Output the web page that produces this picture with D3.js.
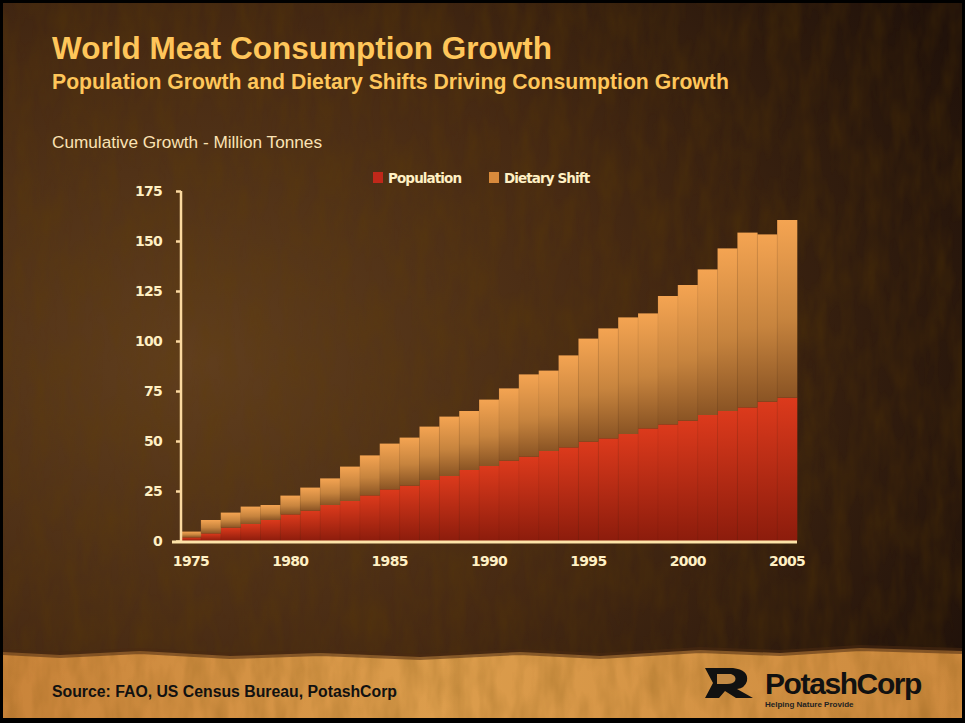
<!DOCTYPE html>
<html>
<head>
<meta charset="utf-8">
<script src="https://cdn.jsdelivr.net/npm/d3@7"></script>
<style>
  html, body { margin: 0; padding: 0; background: #000; }
  svg { display: block; }
</style>
</head>
<body>
<div id="canvas"></div>
<script>
// chart data
var years = d3.range(1975, 2006);
var population = [1.8, 3.8, 6.7, 8.5, 10.5, 13.3, 15.2, 18, 20, 22.8, 25.8, 27.7, 30.5, 32.5, 35.5,
                  37.5, 40.2, 42.2, 45, 46.8, 49.7, 51.3, 53.5, 56.3, 58.3, 60.2, 63, 65, 66.8, 69.7, 71.7];
var total = [4.7, 10.5, 14.2, 17.2, 18, 22.7, 26.7, 31.3, 37.2, 42.8, 48.7, 51.7, 57.2, 62.2, 65,
             70.7, 76.3, 83.3, 85.2, 92.8, 101.2, 106.3, 111.8, 113.8, 122.5, 128, 135.8, 146.3, 154.2, 153.3, 160.5];
var dietary = total.map(function (t, i) { return +(t - population[i]).toFixed(1); });
var yTicks = [0, 25, 50, 75, 100, 125, 150, 175];
var xTickYears = [1975, 1980, 1985, 1990, 1995, 2000, 2005];
var seriesNames = ['Population', 'Dietary Shift'];

window.onload = (function () {
    var W = 965, H = 723;
    var svg = d3.select('#canvas').append('svg')
        .attr('width', W).attr('height', H);
    var defs = svg.append('defs');

    // background gradient, lighter brown on the left
    var bg = defs.append('radialGradient').attr('id', 'bg')
        .attr('cx', '0.2').attr('cy', '0.5').attr('r', '0.9');
    bg.append('stop').attr('offset', '0').attr('stop-color', '#603e1d');
    bg.append('stop').attr('offset', '0.5').attr('stop-color', '#472a13');
    bg.append('stop').attr('offset', '1').attr('stop-color', '#21120a');

    // grainy, fibrous texture
    var grain = defs.append('filter').attr('id', 'grain')
        .attr('x', 0).attr('y', 0).attr('width', 1).attr('height', 1);
    grain.append('feTurbulence').attr('type', 'fractalNoise')
        .attr('baseFrequency', '0.06 0.02').attr('numOctaves', 3).attr('seed', 7);
    grain.append('feColorMatrix').attr('type', 'matrix')
        .attr('values', '0 0 0 0 0.12  0 0 0 0 0.05  0 0 0 0 0  0 0 0 -1.2 0.8');
    grain.append('feComposite').attr('in2', 'SourceGraphic').attr('operator', 'in');

    var band = defs.append('linearGradient').attr('id', 'band')
        .attr('x1', 0).attr('x2', 1).attr('y1', 0).attr('y2', 0);
    band.append('stop').attr('offset', '0').attr('stop-color', '#c9843a');
    band.append('stop').attr('offset', '0.45').attr('stop-color', '#dc9d4c');
    band.append('stop').attr('offset', '1').attr('stop-color', '#cd8a3e');

    var gRed = defs.append('linearGradient').attr('id', 'gRed')
        .attr('x1', 0).attr('x2', 0).attr('y1', 0).attr('y2', 1);
    gRed.append('stop').attr('offset', '0').attr('stop-color', '#dc3a1c');
    gRed.append('stop').attr('offset', '1').attr('stop-color', '#8c1c0c');

    var gOr = defs.append('linearGradient').attr('id', 'gOr')
        .attr('x1', 0).attr('x2', 0).attr('y1', 0).attr('y2', 1);
    gOr.append('stop').attr('offset', '0').attr('stop-color', '#f4a452');
    gOr.append('stop').attr('offset', '0.55').attr('stop-color', '#c7843e');
    gOr.append('stop').attr('offset', '1').attr('stop-color', '#8a5424');

    svg.append('rect').attr('width', W).attr('height', H).attr('fill', '#000');
    svg.append('rect').attr('x', 3).attr('y', 3).attr('width', W - 6).attr('height', H - 8)
        .attr('fill', 'url(#bg)');
    svg.append('rect').attr('x', 3).attr('y', 3).attr('width', W - 6).attr('height', H - 8)
        .attr('fill', '#000').attr('filter', 'url(#grain)').attr('opacity', 0.4);

    // torn paper strip at the bottom
    var edge = [[3, 652], [60, 655], [140, 651], [230, 656], [320, 653], [420, 657], [520, 652],
                [600, 656], [700, 650], [780, 653], [860, 648], [962, 651]];
    var stripPts = edge.concat([[962, 718], [3, 718]]);
    svg.append('path').attr('d', d3.line()(stripPts) + 'Z').attr('fill', 'url(#band)');
    svg.append('path').attr('d', d3.line()(stripPts) + 'Z')
        .attr('fill', '#000').attr('filter', 'url(#grain)').attr('opacity', 0.3);
    svg.append('path').attr('d', d3.line()(edge)).attr('fill', 'none')
        .attr('stroke', '#4a2a12').attr('stroke-width', 6).attr('opacity', 0.55);

    var font = 'Liberation Sans, Arial, sans-serif';
    var tickFont = 'DejaVu Sans, sans-serif';
    // titles
    svg.append('text').attr('x', 52).attr('y', 59)
        .attr('font-family', font).attr('font-weight', 'bold')
        .attr('font-size', 31.5).attr('fill', '#ffc65a')
        .text('World Meat Consumption Growth');
    svg.append('text').attr('x', 52).attr('y', 89)
        .attr('font-family', font).attr('font-weight', 'bold')
        .attr('font-size', 21.2).attr('fill', '#ffc65a')
        .text('Population Growth and Dietary Shifts Driving Consumption Growth');
    svg.append('text').attr('x', 52).attr('y', 148)
        .attr('font-family', font)
        .attr('font-size', 17.2).attr('fill', '#fbe3b4')
        .text('Cumulative Growth - Million Tonnes');

    // scales
    var x = d3.scaleBand().domain(years).range([181, 797]).padding(0);
    var y = d3.scaleLinear().domain([0, 175]).range([541, 191]);

    var stacked = d3.stack().keys([0, 1])
        .value(function (d, k) { return k === 0 ? d.pop : d.diet; })(
            years.map(function (yr, i) { return { year: yr, pop: population[i], diet: dietary[i] }; }));
    var fills = ['url(#gRed)', 'url(#gOr)'];

    var layers = svg.selectAll('g.layer').data(stacked).enter().append('g')
        .attr('class', 'layer').attr('fill', function (d, i) { return fills[i]; });
    layers.selectAll('rect').data(function (d) { return d; }).enter().append('rect')
        .attr('x', function (d) { return x(d.data.year); })
        .attr('y', function (d) { return y(d[1]); })
        .attr('width', x.bandwidth() + 0.3)
        .attr('height', function (d) { return y(d[0]) - y(d[1]); });
    // faint seams between bars
    svg.append('g').selectAll('line').data(years.slice(1)).enter().append('line')
        .attr('x1', function (d) { return x(d); }).attr('x2', function (d) { return x(d); })
        .attr('y1', function (d, i) { return y(total[i + 1]); }).attr('y2', 541)
        .attr('stroke', '#000').attr('stroke-opacity', 0.06);

    // y axis
    var yAxis = svg.append('g').attr('transform', 'translate(181,0)')
        .call(d3.axisLeft(y).tickValues(yTicks).tickSize(5).tickPadding(14));
    yAxis.select('.domain').attr('stroke', '#fbd9a0').attr('stroke-width', 2.5)
        .attr('d', 'M0,' + y(175) + 'V' + y(0));
    yAxis.selectAll('.tick line').attr('stroke', '#fbd9a0').attr('stroke-width', 2.5);
    yAxis.selectAll('.tick text').attr('fill', '#fff0c4').attr('font-family', tickFont)
        .attr('font-weight', 'bold').attr('font-size', 14).attr('letter-spacing', -0.7)
        .attr('dy', '0.35em');

    // x axis
    var xAxis = svg.append('g').attr('transform', 'translate(0,542)')
        .call(d3.axisBottom(x).tickValues(xTickYears).tickSize(0).tickPadding(14));
    xAxis.select('.domain').attr('stroke', '#fde3a8').attr('stroke-width', 3)
        .attr('d', 'M172,0H797');
    xAxis.selectAll('.tick text').attr('fill', '#fff0c4').attr('font-family', tickFont)
        .attr('font-weight', 'bold').attr('font-size', 14).attr('letter-spacing', -0.7);

    // legend
    var legX = [373, 489];
    var leg = svg.append('g').selectAll('g').data(seriesNames).enter().append('g')
        .attr('transform', function (d, i) { return 'translate(' + legX[i] + ',172)'; });
    leg.append('rect').attr('width', 10).attr('height', 11)
        .attr('fill', function (d, i) { return i === 0 ? '#c0281a' : '#d88a3c'; });
    leg.append('text').attr('x', 15).attr('y', 11)
        .attr('font-family', tickFont).attr('font-weight', 'bold').attr('font-size', 13.5)
        .attr('letter-spacing', -0.9).attr('fill', '#fff0c4')
        .text(function (d) { return d; });

    // source + logo
    svg.append('text').attr('x', 52).attr('y', 697)
        .attr('font-family', font).attr('font-weight', 'bold').attr('font-size', 15.8)
        .attr('fill', '#111').text('Source: FAO, US Census Bureau, PotashCorp');
    var logo = svg.append('g').attr('transform', 'translate(703,664)');
    logo.append('path').attr('d', 'M2,4 L30,4 Q46,6 44,17 Q42,24 34,25 L50,34 L33,34 L22,27 L16,34 L2,34 L10,19 Z')
        .attr('fill', '#111');
    logo.append('path').attr('d', 'M14,10 L28,10 Q34,12 32,17 Q30,20 24,20 L14,20 Z')
        .attr('fill', '#c38a45');
    logo.append('text').attr('x', 62).attr('y', 30)
        .attr('font-family', font).attr('font-weight', 'bold').attr('font-size', 30)
        .attr('letter-spacing', -1.4).attr('fill', '#111').text('PotashCorp');
    logo.append('text').attr('x', 62).attr('y', 43)
        .attr('font-family', font).attr('font-weight', 'bold').attr('font-size', 8)
        .attr('fill', '#222').text('Helping Nature Provide');
}());
</script>
</body>
</html>
